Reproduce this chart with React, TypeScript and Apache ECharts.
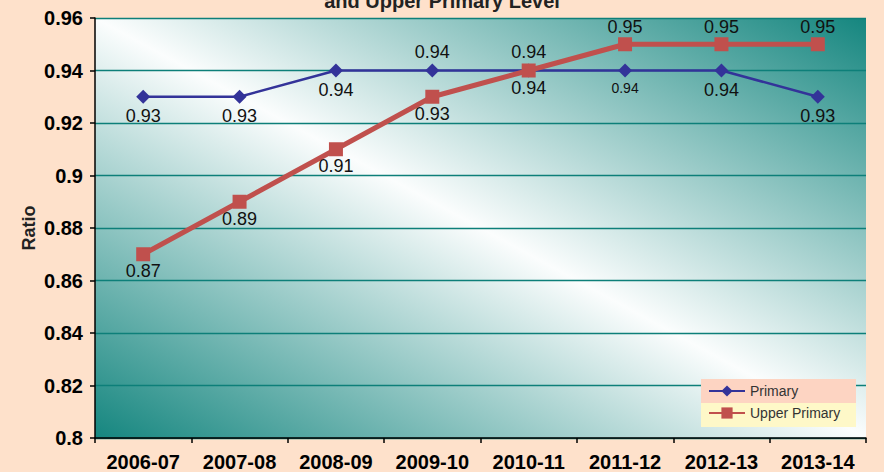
import React, { useEffect, useRef } from "react";
import * as echarts from "echarts";

const categories = ["2006-07", "2007-08", "2008-09", "2009-10", "2010-11", "2011-12", "2012-13", "2013-14"];
const primary = [0.93, 0.93, 0.94, 0.94, 0.94, 0.94, 0.94, 0.93];
const upperPrimary = [0.87, 0.89, 0.91, 0.93, 0.94, 0.95, 0.95, 0.95];
const primaryLabelPos = ["bottom", "bottom", "bottom", "top", "top", "bottom", "bottom", "bottom"];
const upperLabelPos = ["bottom", "bottom", "bottom", "bottom", "bottom", "top", "top", "top"];
const primaryLabelSize = [18, 18, 18, 18, 18, 14, 18, 18];

export default function App() {
  const ref = useRef<HTMLDivElement>(null);
  useEffect(() => {
    document.body.style.margin = "0";
    const chart = echarts.init(ref.current!, null, { renderer: "svg" });
    const font = "'Liberation Sans', Arial, sans-serif";
    chart.setOption({
      animation: false,
      backgroundColor: "#fee1cb",
      textStyle: { fontFamily: font },
      title: {
        text: "and Upper Primary Level",
        left: "center",
        top: -14,
        textStyle: { fontSize: 20, fontWeight: "bold", color: "#222", fontFamily: font },
      },
      grid: {
        left: 95,
        right: 18,
        top: 18,
        bottom: 34,
        show: true,
        borderWidth: 0,
        backgroundColor: new echarts.graphic.LinearGradient(0, 1, 1, 0, [
          { offset: 0, color: "#15867f" },
          { offset: 0.5, color: "#fbfdfd" },
          { offset: 1, color: "#15867f" },
        ]),
      },
      graphic: [
        { type: "rect", shape: { x: 701, y: 379, width: 155, height: 24 }, style: { fill: "#fdd4c2" }, z: 10 },
        { type: "rect", shape: { x: 701, y: 403, width: 155, height: 24 }, style: { fill: "#fef8c8" }, z: 10 },
      ],
      legend: {
        orient: "vertical",
        left: 703,
        top: 379,
        itemGap: 8,
        itemWidth: 36,
        itemHeight: 14,
        z: 20,
        textStyle: { fontSize: 14, color: "#333", fontFamily: font },
        data: ["Primary", "Upper Primary"],
      },
      xAxis: {
        type: "category",
        data: categories,
        boundaryGap: true,
        axisLine: { lineStyle: { color: "#000", width: 1.5 } },
        axisTick: { show: true, length: 5, lineStyle: { color: "#000", width: 1.5 } },
        axisLabel: { fontSize: 20, fontWeight: "bold", color: "#000", margin: 14, fontFamily: font },
        splitLine: { show: false },
      },
      yAxis: {
        type: "value",
        min: 0.8,
        max: 0.96,
        interval: 0.02,
        name: "Ratio",
        nameLocation: "middle",
        nameGap: 57,
        nameMoveOverlap: false,
        nameTextStyle: { fontSize: 18, fontWeight: "bold", color: "#222", fontFamily: font },
        axisLine: { show: true, lineStyle: { color: "#000", width: 1.5 } },
        axisTick: { show: true, length: 5, lineStyle: { color: "#000", width: 1.5 } },
        axisLabel: {
          fontSize: 20,
          fontWeight: "bold",
          color: "#000",
          margin: 12,
          fontFamily: font,
          formatter: (v: number) => String(parseFloat(v.toFixed(2))),
        },
        splitLine: { show: true, lineStyle: { color: "#0d7f79", width: 1.3 } },
      },
      series: [
        {
          name: "Primary",
          type: "line",
          data: primary.map((v, i) => ({
            value: v,
            label: { position: primaryLabelPos[i], fontSize: primaryLabelSize[i] },
          })),
          symbol: "diamond",
          symbolSize: 14,
          lineStyle: { color: "#333399", width: 2.5 },
          itemStyle: { color: "#333399" },
          label: { show: true, color: "#111", fontSize: 18, distance: 3, fontFamily: font },
          z: 3,
        },
        {
          name: "Upper Primary",
          type: "line",
          data: upperPrimary.map((v, i) => ({
            value: v,
            label: { position: upperLabelPos[i] },
          })),
          symbol: "rect",
          symbolSize: 14,
          lineStyle: { color: "#c0504d", width: 5 },
          itemStyle: { color: "#c0504d" },
          label: { show: true, color: "#111", fontSize: 18, distance: 1, fontFamily: font },
          z: 4,
        },
      ],
    });
    return () => chart.dispose();
  }, []);
  return <div ref={ref} style={{ width: 884, height: 472 }} />;
}
